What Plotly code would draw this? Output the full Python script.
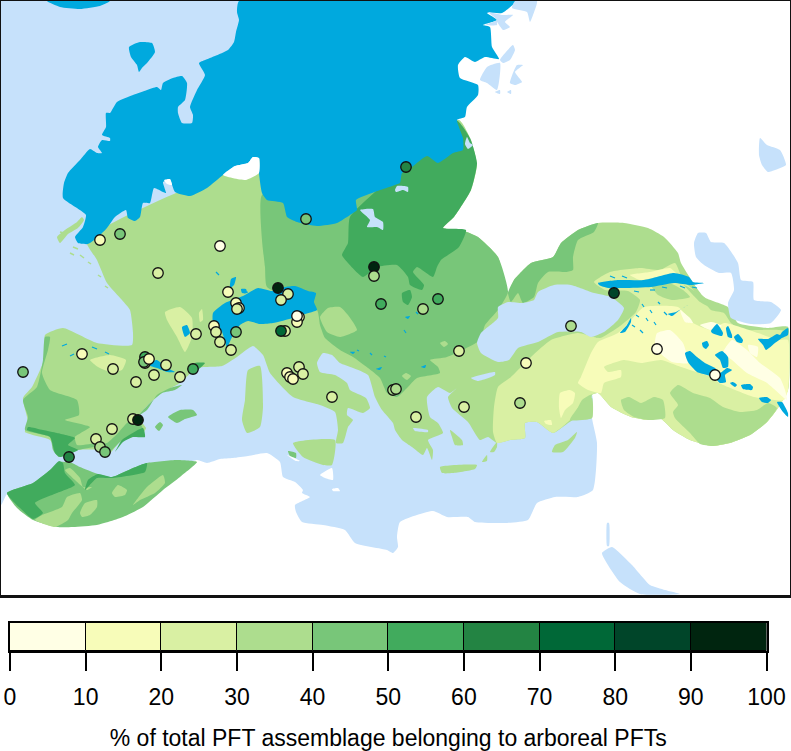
import plotly.graph_objects as go

# ---- class colours / colour-bar data ----
bar_edges = [0, 10, 20, 30, 40, 50, 60, 70, 80, 90, 100]
bar_colors = ["#FFFFE5", "#F7FCB9", "#D9F0A3", "#ADDD8E", "#78C679",
              "#41AB5D", "#238443", "#006837", "#004529", "#00250F"]
bar_title = "% of total PFT assemblage belonging to arboreal PFTs"

SEA = "#C6E1FB"
ICE = "#00A9DE"
WHITE = "#FFFFFF"

# ---- pollen sites: x, y on the map, arboreal % ----
site_x = [100,120,220,158,228,236,239,237,288,281,299,297,297,285,281,236,214,216,220,231,196,278,
          23,82,113,136,145,145,144,149,166,154,180,193,112,133,138,96,100,105,69,
          299,287,290,293,303,332,374,374,381,438,423,459,393,396,416,464,520,526,571,614,657,715,406,306]
site_y = [240,234,246,273,292,303,308,309,294,300,317,322,316,331,331,332,326,332,342,350,334,288,
          372,354,369,382,363,357,362,359,365,375,377,369,429,419,420,439,447,452,457,
          367,373,377,379,374,397,267,276,304,299,309,351,390,389,417,407,403,363,326,293,349,375,167,219]
site_v = [15,45,5,25,15,15,15,25,25,25,15,15,5,25,70,40,15,25,25,25,25,95,
          45,15,25,25,25,55,40,15,25,25,25,50,25,25,95,20,35,45,65,
          25,15,15,15,25,25,95,30,55,55,30,25,35,35,20,25,30,15,30,85,5,5,60,45]

# ---- map layers, bottom to top: (x, y) outlines on the map ----
sea_main = [(1,1),(245,1),(300,100),(340,225),(480,300),(592,395),(592,418),(597,443),(593,490),(578,497),(555,497),(537,503),(528,520),
            (505,523),(475,522),(468,517),(447,517),(433,511),(400,522),(397,537),(398,547),(393,553),(387,550),
            (355,543),(345,530),(323,525),(302,522),(296,512),(295,505),(310,497),(302,493),(303,490),(295,482),(283,477),
            (280,462),(267,453),(248,456),(233,458),(220,459),(207,463),(197,460),(170,470),(8,493),(1,505)]

land30 = [(86,240),(97,260),(107,283),(122,300),(130,310),(133,333),(132,345),(97,343),(63,328),(45,335),(45,357),(40,370),(32,387),
          (23,398),(28,422),(25,432),(50,440),(57,453),(65,455),(78,450),(98,450),(108,455),(120,442),(143,433),(146,428),(138,417),
          (150,403),(162,393),(180,383),(197,368),(222,366),(237,357),(253,346),(263,355),(270,373),(293,397),(320,405),(335,412),
          (338,430),(336,443),(343,443),(348,427),(353,420),(347,415),(348,408),(363,413),(370,408),(366,398),(350,390),(347,383),
          (335,375),(320,372),(317,363),(323,353),(332,355),(340,363),(353,368),(368,375),(375,397),(382,410),(393,423),(395,430),
          (402,440),(412,447),(423,455),(427,448),(432,460),(433,450),(428,440),(443,433),(438,423),(430,417),(427,397),(438,387),
          (450,393),(457,388),(448,397),(452,408),(468,422),(480,440),(488,437),(497,443),(510,440),(525,438),(525,423),(537,422),
          (553,433),(573,420),(592,418),(592,395),(598,393),(611,407),(631,417),(648,420),(660,418),(673,430),(690,440),(712,446),
          (730,443),(750,435),(767,422),(778,408),(788,390),(788,327),(768,328),(738,323),(728,307),(704,297),(681,263),(678,253),
          (664,237),(648,228),(624,223),(598,223),(578,230),(561,243),(553,257),(531,263),(514,280),(508,293),(498,257),(478,237),
          (461,230),(443,228),(454,217),(471,190),(477,165),(471,140),(459,120),(400,150),(259,160)]

green40_east = [(262,195),(262,240),(265,267),(267,287),(317,310),(320,325),(325,338),(340,350),(353,357),(368,368),(380,378),
                (387,393),(397,397),(407,388),(417,378),(440,373),(438,367),(430,360),(447,357),(480,340),(485,325),(498,310),(508,292),
                (498,257),(478,237),(461,230),(443,228),(420,190),(300,190)]
green30_hungary = [(320,317),(328,308),(340,307),(348,315),(357,330),(340,337),(327,332)]
green30_speck1 = [(440,343),(445,341),(448,344),(444,347)]
green30_speck2 = [(402,376),(406,373),(411,376),(407,380)]
green40_pontic = [(508,293),(514,280),(531,263),(553,257),(561,243),(578,230),(598,223),(594,232),(578,240),(573,257),(573,270),(566,272),
                  (548,272),(538,283),(534,297),(523,303),(518,293),(511,302)]
green50_ukraine = [(456,120),(470,138),(477,163),(471,190),(454,217),(443,228),(466,230),(459,247),(441,260),(437,267),(433,277),(417,267),
                   (413,272),(424,285),(422,290),(410,285),(408,277),(397,265),(377,267),(363,277),(348,263),(342,255),(348,243),(350,217),(400,170)]
green50_blob = [(402,293),(410,290),(412,297),(408,305),(403,302)]

green40_iberia = [(45,337),(43,360),(37,387),(23,400),(28,417),(25,430),(50,437),(53,450),(59,457),(78,450),(98,447),(108,453),(120,442),
                  (143,430),(138,417),(150,403),(162,393),(175,390),(182,385),(170,388),(157,395),(147,410),(127,423),(118,433),(107,443),
                  (97,443),(77,445),(75,437),(90,427),(65,420),(79,415),(77,400),(50,390),(42,373),(48,350),(50,337)]
green50_iberia = [(27,430),(50,437),(55,453),(60,457),(78,450),(68,445),(75,438),(57,433),(43,430),(28,427)]
green50_iberia2 = [(115,452),(122,440),(143,428),(145,437),(133,437),(123,442)]
green50_catalonia = [(188,372),(195,363),(205,363),(195,372)]
green20_iberia = [(90,360),(110,355),(126,360),(122,370),(110,372),(98,367)]
green20_france = [(165,312),(180,307),(192,318),(192,337),(185,352),(177,337),(167,320)]
green20_france2 = [(199,313),(202,309),(203,320),(200,322)]

isl_majorca = [(168,417),(180,410),(193,410),(197,415),(185,419),(177,423)]
isl_ibiza = [(155,427),(160,422),(163,425),(159,431)]
isl_sardinia = [(248,370),(260,366),(263,407),(260,427),(247,433),(242,420),(245,400)]
isl_sicily = [(293,443),(335,440),(332,465),(323,465),(303,457)]
isl_crete = [(440,467),(477,465),(475,469),(453,473),(442,473)]
isl_cyprus = [(577,432),(575,438),(563,452),(552,452),(555,445),(568,440)]
isl_rhodes = [(490,452),(497,442),(497,447),(494,452)]
isl_karpathos = [(482,462),(487,455),(487,461)]
isl_chios = [(450,430),(462,440),(463,445),(455,445),(452,437)]
isl_british = [(57,237),(65,230),(77,222),(82,217),(84,220),(78,228),(68,234),(60,243)]
isl_pantelleria = [(288,451),(296,453),(296,458),(290,456)]

white_tunis = [(320,475),(332,468),(333,480),(325,478)]
white_tip = [(287,455),(292,457),(300,461),(296,461)]
white_kerkennah = [(332,489),(338,488),(340,491),(333,491)]

morocco40 = [(7,493),(17,508),(33,520),(57,527),(73,527),(97,525),(123,517),(143,507),(163,490),(180,477),(197,462),(177,460),(147,463),
             (133,468),(112,477),(98,474),(80,467),(72,463),(60,462),(50,470),(33,483)]
morocco50a = [(7,493),(20,508),(33,519),(43,513),(35,503),(57,493),(75,485),(65,473),(63,463),(59,461),(50,470),(33,483)]
morocco50b = [(85,490),(97,478),(112,478),(145,472),(147,463),(133,468),(112,477),(98,474),(88,480)]
morocco30a = [(35,520),(42,515),(62,507),(67,497),(80,493),(82,500),(72,513),(68,520),(55,527)]
morocco30b = [(80,513),(85,503),(97,500),(97,507),(90,515),(82,517)]
morocco30c = [(112,493),(118,485),(127,490),(125,495),(115,497)]
morocco30d = [(133,505),(147,487),(163,475),(165,483),(155,493),(140,500)]
morocco30e = [(65,470),(70,468),(80,478),(83,487),(92,487),(87,490),(75,480)]

green20_east = [(493,432),(494,407),(498,387),(511,377),(531,357),(551,340),(578,333),(600,338),(620,326),(636,312),(640,300),(628,291),
                (605,290),(594,282),(610,272),(640,268),(660,270),(675,263),(683,280),(701,297),(711,310),(724,313),(731,323),(741,330),
                (758,330),(788,332),(788,390),(778,408),(767,422),(750,435),(730,443),(712,446),(690,440),(673,430),(660,418),(648,420),
                (631,417),(611,407),(598,393),(590,395),(582,400),(573,417),(553,433),(537,422),(525,423),(525,438),(510,440),(497,443)]
green30_caucasus = [(684,285),(704,297),(712,308),(700,302),(692,294)]
green30_kuban = [(617,298),(631,303),(624,317),(604,333),(596,338),(608,322)]
green30_taurus = [(570,420),(582,403),(592,398),(592,418)]
green30_iraq = [(621,400),(629,397),(641,403),(654,397),(663,400),(665,418),(648,420),(634,417),(624,410)]
green30_zagros = [(670,393),(678,385),(693,393),(710,398),(723,407),(740,412),(757,410),(768,403),(777,408),(767,422),(750,435),(730,443),
                  (712,446),(700,444),(690,433),(675,418),(673,412),(678,405)]
green30_patch = [(650,283),(665,281),(683,290),(690,297),(672,300),(658,295)]
green10_east = [(578,383),(581,377),(591,353),(598,342),(618,333),(631,320),(644,307),(678,307),(693,323),(711,330),(724,323),(758,333),
                (778,340),(788,340),(788,390),(784,400),(754,397),(728,387),(719,383),(711,377),(681,367),(661,360),(641,363),(624,360),
                (604,367),(608,372),(621,370),(621,377),(604,383),(601,393),(588,390)]
green10_turkey = [(560,393),(570,390),(575,393),(573,403),(565,410),(561,418),(559,408)]
green10_antalya = [(544,421),(551,420),(552,425),(546,424)]
green10_caucasus = [(630,275),(650,272),(670,268),(680,278),(660,277),(640,280)]
green0_a = [(657,333),(670,330),(683,343),(688,363),(672,362),(660,353),(655,343)]
green0_b = [(732,340),(747,350),(760,363),(780,378),(785,390),(787,400),(767,383),(747,373),(732,360),(723,353)]
green0_c = [(680,310),(690,318),(693,323),(685,322)]
green0_d = [(700,325),(712,322),(722,326),(710,330)]
green0_e = [(748,345),(758,347),(757,357),(750,353)]

ice_main = [(239,1),(237,12),(239,20),(236,32),(234,42),(228,50),(215,56),(205,60),(199,63),(205,75),(197,90),(190,107),(193,115),(192,123),
            (182,123),(178,113),(178,107),(185,100),(187,83),(182,76),(173,78),(163,83),(161,90),(157,87),(147,90),(133,95),(117,102),(110,113),
            (106,113),(106,127),(102,135),(110,138),(110,141),(102,140),(98,147),(102,153),(97,153),(90,149),(80,160),(68,173),(64,183),(63,198),
            (80,210),(86,215),(83,227),(75,237),(78,243),(88,244),(98,237),(107,228),(115,217),(126,210),(128,218),(135,221),(140,217),(143,203),
            (150,203),(154,188),(163,192),(166,193),(163,182),(170,180),(175,192),(190,196),(207,188),(223,175),(235,166),(248,163),(253,157),
            (259,158),(259,173),(262,193),(267,200),(283,203),(287,217),(297,222),(317,226),(337,223),(350,215),(357,210),(356,200),(372,193),
            (395,185),(400,183),(402,173),(412,167),(427,156),(438,163),(453,153),(463,150),(463,138),(457,120),(465,117),(467,107),(478,95),
            (478,85),(460,78),(458,65),(465,57),(475,62),(485,57),(499,59),(492,47),(490,27),(483,25),(497,20),(487,13),(502,13),(515,3),(517,1)]
ice_top = [(47,1),(60,7),(80,9),(100,6),(110,1)]
ice_island = [(129,47),(140,42),(152,43),(155,52),(147,63),(142,68),(139,72),(137,65),(131,57)]
white_notch = [(223,175),(235,166),(248,163),(253,157),(259,158),(259,173),(246,180)]
white_speck = [(164,180),(170,179),(172,185),(167,184)]
ice_alps = [(213,313),(225,303),(243,296),(258,288),(272,291),(285,287),(295,286),(308,291),(316,293),(314,302),(317,310),(305,314),(293,318),
            (273,323),(260,324),(248,321),(240,325),(233,335),(227,347),(222,332),(213,323)]
ice_alps2 = [(241,289),(246,289),(247,293),(242,293)]
ice_jura = [(231,279),(236,277),(234,285),(230,288)]
ice_pyrenees = [(140,360),(150,362),(157,360),(167,368),(175,372),(167,372),(157,368),(147,365)]
ice_central = [(182,327),(187,325),(190,333),(185,337)]
ice_caucasus = [(598,283),(618,280),(644,280),(674,273),(689,277),(693,282),(704,283),(691,285),(674,283),(651,287),(624,288),(608,288),(599,285)]
ice_zagros1 = [(685,353),(690,351),(697,357),(705,363),(715,368),(720,373),(727,368),(732,370),(725,375),(726,382),(720,383),(715,378),(707,375),(697,372),(688,362)]
ice_zagros2 = [(715,355),(722,351),(728,357),(728,367),(723,368),(720,360)]
ice_zagros3 = [(702,343),(707,341),(709,345),(706,349),(703,347)]
ice_zagros4 = [(711,331),(717,324),(723,333),(722,336),(712,333)]
ice_zagros5 = [(726,328),(728,326),(732,335),(732,338),(728,337)]
ice_zagros6 = [(734,337),(738,334),(743,340),(742,343),(737,342)]
ice_zagros7 = [(758,339),(768,339),(777,334),(780,335),(782,332),(788,328),(788,335),(782,338),(775,343),(766,350),(763,345)]
ice_zagros8 = [(730,383),(733,382),(737,385),(735,387)]
ice_zagros9 = [(741,385),(750,384),(753,387),(752,390),(743,389)]
ice_zagros10 = [(759,398),(767,397),(771,400),(768,403),(762,402)]
ice_zagros11 = [(777,402),(782,402),(788,413),(788,417),(783,412)]
ice_pontic1 = [(620,333),(627,325),(631,318),(631,322),(625,332)]
ice_pontic2 = [(668,314),(676,312),(688,305),(680,310),(672,316)]
ice_balkan1 = [(350,352),(355,352),(353,354)]
ice_balkan2 = [(405,317),(410,316),(408,319)]
ice_balkan3 = [(376,369),(382,367),(380,370)]
ice_balkan4 = [(421,367),(426,365),(425,368)]

# small ice flecks: stroke end points, None separates strokes
fleck_x = [642,644,None,650,652,None,658,660,None,664,667,None,646,648,None,654,656,None,636,639,None,632,635,None,640,643,None,
           610,615,None,622,627,None,634,639,None,650,655,None,662,667,None,680,685,None,692,697,None,
           62,67,None,70,74,None,92,97,None,105,109,None,216,219,None,244,248,None,
           357,359,None,370,372,None,384,386,None,404,406,None,416,418]
fleck_y = [304,307,None,310,313,None,302,304,None,312,315,None,318,321,None,322,325,None,315,317,None,325,327,None,330,333,None,
           276,278,None,276,278,None,291,292,None,290,290,None,287,288,None,286,288,None,287,288,None,
           346,344,None,356,354,None,347,349,None,352,354,None,272,275,None,293,292,None,
           350,351,None,353,355,None,356,357,None,330,333,None,312,314]
# green specks off the west European coast
speck_x = [73,78,None,80,84,None,88,91,None,98,101,None,105,108,None,70,74,None,60,64]
speck_y = [247,249,None,255,258,None,262,264,None,275,277,None,286,288,None,253,255,None,232,233]

black_sea = [(477,343),(481,333),(498,318),(498,307),(508,302),(523,303),(534,300),(538,292),(554,285),(571,285),(594,293),(611,297),(624,308),
             (618,320),(604,332),(591,337),(581,332),(558,332),(538,342),(518,348),(509,360),(498,362),(481,353)]
marmara = [(471,378),(495,372),(495,375),(478,381)]
caspian = [(698,233),(706,233),(711,242),(724,243),(738,263),(741,280),(753,282),(754,300),(771,302),(781,310),(771,323),(751,324),(731,318),
           (728,303),(734,290),(731,273),(719,273),(704,265),(696,257),(694,243)]
aral = [(760,138),(767,145),(780,150),(786,165),(775,170),(768,172),(762,165),(759,155)]
red_sea = [(602,553),(612,547),(632,565),(650,585),(665,590),(680,594),(640,594),(620,582)]
red_gulf = [(607,523),(609,523),(609,546),(607,546)]
euboea = [(413,428),(428,430),(428,432),(415,431)]
lake_ladoga = [(360,210),(373,209),(375,217),(383,222),(383,230),(377,227),(367,227),(370,220)]
lake_peipus = [(395,190),(397,186),(408,187),(408,192),(403,190),(396,192)]
lake_gulf = [(465,144),(467,137),(470,143),(473,145),(468,149)]
white_a = [(515,1),(537,1),(533,15),(530,22),(527,12),(512,8)]
white_b = [(488,12),(503,15),(513,15),(505,22),(510,27),(503,30),(497,22),(497,25),(485,25),(497,20)]
white_c = [(500,60),(513,45),(515,50),(510,60),(503,63)]
white_d = [(480,80),(487,67),(500,63),(497,90),(487,83)]
white_e = [(510,83),(517,65),(523,65),(515,72),(522,82),(515,85)]
sea_specks = [[(495,92),(500,90),(500,94)], [(507,92),(511,90),(511,94)]]

LAYERS = [
    (SEA, [sea_main]),
    (bar_colors[3], [land30, isl_sardinia, isl_sicily, isl_crete, isl_cyprus, isl_rhodes, isl_karpathos, isl_chios, isl_british]),
    (bar_colors[4], [green40_east, green40_pontic, green40_iberia, isl_majorca, isl_ibiza, morocco40, isl_pantelleria]),
    (bar_colors[3], [green30_hungary, green30_speck1, green30_speck2, morocco30a, morocco30b, morocco30c, morocco30d, morocco30e]),
    (bar_colors[5], [green50_ukraine, green50_blob, green50_iberia, green50_iberia2, green50_catalonia, morocco50a, morocco50b]),
    (bar_colors[2], [green20_east, green20_iberia, green20_france, green20_france2]),
    (bar_colors[3], [green30_caucasus, green30_kuban, green30_taurus, green30_iraq, green30_zagros, green30_patch]),
    (bar_colors[1], [green10_east, green10_turkey, green10_antalya, green10_caucasus]),
    (bar_colors[0], [green0_a, green0_b, green0_c, green0_d, green0_e]),
    (WHITE, [white_tunis, white_tip, white_kerkennah]),
    (ICE, [ice_main, ice_top, ice_island, ice_alps, ice_alps2, ice_jura, ice_pyrenees, ice_central, ice_caucasus,
           ice_zagros1, ice_zagros2, ice_zagros3, ice_zagros4, ice_zagros5, ice_zagros6, ice_zagros7, ice_zagros8, ice_zagros9,
           ice_zagros10, ice_zagros11, ice_pontic1, ice_pontic2, ice_balkan1, ice_balkan2, ice_balkan3, ice_balkan4]),
    (WHITE, [white_notch, white_speck]),
    (SEA, [black_sea, marmara, caspian, aral, red_sea, red_gulf, euboea, lake_ladoga, lake_peipus, lake_gulf,
           white_a, white_b, white_c, white_d, white_e] + sea_specks),
]

W, H = 791, 751
fig = go.Figure()

def add_poly(pts, color):
    xs = [p[0] for p in pts] + [pts[0][0]]
    ys = [p[1] for p in pts] + [pts[0][1]]
    fig.add_trace(go.Scatter(x=xs, y=ys, mode="lines", fill="toself", fillcolor=color,
                             line=dict(width=0, color=color, shape="spline", smoothing=0.5),
                             hoverinfo="skip", showlegend=False, xaxis="x", yaxis="y"))

for color, polys in LAYERS:
    for poly in polys:
        add_poly(poly, color)

fig.add_trace(go.Scatter(x=fleck_x, y=fleck_y, mode="lines", line=dict(color=ICE, width=1.2), hoverinfo="skip",
                         showlegend=False, xaxis="x", yaxis="y"))
fig.add_trace(go.Scatter(x=speck_x, y=speck_y, mode="lines", line=dict(color=bar_colors[3], width=1.5), hoverinfo="skip",
                         showlegend=False, xaxis="x", yaxis="y"))

def class_color(v):
    return bar_colors[min(int(v // 10), 9)]

fig.add_trace(go.Scatter(x=site_x, y=site_y, mode="markers", showlegend=False, xaxis="x", yaxis="y",
                         marker=dict(size=10.5, color=[class_color(v) for v in site_v],
                                     line=dict(color="#111111", width=1.3))))

centers = [(a + b) / 2 for a, b in zip(bar_edges[:-1], bar_edges[1:])]
fig.add_trace(go.Bar(x=centers, y=[1] * len(centers), width=[10] * len(centers), showlegend=False,
                     marker=dict(color=bar_colors, line=dict(color="#000000", width=1)),
                     xaxis="x2", yaxis="y2", hoverinfo="skip"))

font_face = "Liberation Sans, Arial, sans-serif"
fig.update_layout(
    width=W, height=H, margin=dict(l=0, r=0, t=0, b=0, autoexpand=False), paper_bgcolor="white", plot_bgcolor="white",
    font=dict(family=font_face, color="black"), bargap=0,
    xaxis=dict(domain=[1 / W, 789.5 / W], range=[1, 789.5], showgrid=False, zeroline=False, showticklabels=False, automargin=False,
               ticks="", showline=True, linewidth=2.5, linecolor="#111111", mirror=True),
    yaxis=dict(domain=[1 - 595 / H, 1 - 1 / H], range=[595, 1], showgrid=False, zeroline=False, showticklabels=False, automargin=False,
               ticks="", showline=True, linewidth=2.5, linecolor="#111111", mirror=True),
    xaxis2=dict(domain=[10 / W, 766.5 / W], range=[0, 100], anchor="y2", tickmode="array", tickvals=bar_edges, automargin=False,
                ticktext=[str(v) for v in bar_edges], ticks="outside", ticklen=18, tickwidth=1.5, tickcolor="black",
                showgrid=False, zeroline=False, showline=True, linewidth=1.5, linecolor="black", mirror=True,
                tickfont=dict(size=23, family=font_face), ticklabelstandoff=7,
                title=dict(text=bar_title, font=dict(size=23, family=font_face), standoff=21)),
    yaxis2=dict(domain=[1 - 651 / H, 1 - 623 / H], range=[0, 1], anchor="x2", showgrid=False, zeroline=False, automargin=False,
                showticklabels=False, ticks="", showline=True, linewidth=1.5, linecolor="black", mirror=True),
)
fig.write_html("out.html", config={"displayModeBar": False},
               post_script="document.body.style.margin='0';document.documentElement.style.overflow='hidden';")
